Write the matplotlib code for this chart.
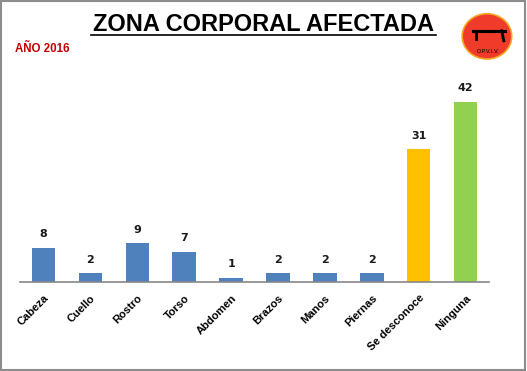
import numpy as np
import matplotlib
matplotlib.use('Agg')
import matplotlib.pyplot as plt
from matplotlib.patches import Ellipse, Rectangle

zonas = ['Cabeza', 'Cuello', 'Rostro', 'Torso', 'Abdomen', 'Brazos',
         'Manos', 'Piernas', 'Se desconoce', 'Ninguna']
casos = [8, 2, 9, 7, 1, 2, 2, 2, 31, 42]
colores = ['#4F81BD'] * 8 + ['#FFC000', '#92D050']

fig = plt.figure(figsize=(5.27, 3.71), dpi=100)
ax = fig.add_axes([0.038, 0.240, 0.890, 0.566])

x = np.arange(len(zonas))
ax.bar(x, casos, width=0.5, color=colores, zorder=2)
for xi, v in zip(x, casos):
    ax.text(xi, v + 2.0, str(v), ha='center', va='bottom', fontsize=8,
            fontweight='bold', color='#1a1a1a')

ax.set_xlim(-0.5, 9.5)
ax.set_ylim(0, 49)
ax.set_yticks([])
ax.set_xticks(x)
ax.set_xticklabels(zonas, rotation=45, ha='right', rotation_mode='anchor',
                   fontsize=8, fontweight='bold', family='Liberation Sans')
ax.tick_params(axis='x', length=0, pad=8)
for s in ['top', 'right', 'left']:
    ax.spines[s].set_visible(False)
ax.spines['bottom'].set_color('#888888')
ax.spines['bottom'].set_linewidth(1.2)

# title, year and logo
fig.text(0.5, 0.935, 'ZONA CORPORAL AFECTADA', ha='center', va='center',
         fontsize=17, fontweight='bold', family='Liberation Sans')
fig.add_artist(plt.Line2D([0.173, 0.827], [0.906, 0.906], color='black',
                          lw=1.2, transform=fig.transFigure))
fig.text(0.028, 0.869, 'AÑO 2016', ha='left', va='center', fontsize=8.3,
         fontweight='bold', color='#C00000', family='Liberation Sans')

logo = Ellipse((0.924, 0.902), 0.094, 0.122, transform=fig.transFigure,
               facecolor='#F03A2A', edgecolor='#F5A623', lw=1.2)
fig.add_artist(logo)
fig.add_artist(plt.Line2D([0.898, 0.936], [0.917, 0.917], color='black',
                          lw=2.2, transform=fig.transFigure))
fig.add_artist(plt.Line2D([0.936, 0.958], [0.917, 0.917], color='black',
                          lw=2.2, transform=fig.transFigure))
fig.add_artist(plt.Line2D([0.952, 0.956], [0.917, 0.890], color='black',
                          lw=2, transform=fig.transFigure))
fig.add_artist(plt.Line2D([0.904, 0.904], [0.917, 0.895], color='black',
                          lw=2, transform=fig.transFigure))
fig.text(0.926, 0.862, 'O.P.V.I.V.', ha='center', va='center', fontsize=4,
         color='black')

# figure border
fig.add_artist(Rectangle((0.002, 0.003), 0.995, 0.994, transform=fig.transFigure,
                         fill=False, edgecolor='#8c8c8c', lw=1.5))

fig.savefig('out.png', dpi=100)
